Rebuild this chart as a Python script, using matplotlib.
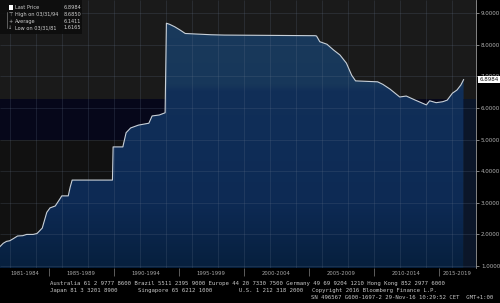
import numpy as np
import matplotlib.pyplot as plt
from matplotlib.colors import LinearSegmentedColormap
from matplotlib.patches import Rectangle

# USD/CNY spot (decimal year, rate)
years = [1981.25, 1981.5, 1981.75, 1982.0, 1982.25, 1982.6, 1983.0, 1983.3, 1983.8,
         1984.1, 1984.5, 1984.85, 1985.1, 1985.5, 1985.9, 1986.0, 1986.5, 1986.65,
         1986.8, 1989.9, 1989.95, 1990.7, 1990.95, 1991.3, 1991.9, 1992.7, 1992.95,
         1993.5, 1993.95, 1994.05, 1994.3, 1994.7, 1995.1, 1995.5, 1996.5, 1997.5,
         1998.5, 2005.5, 2005.6, 2005.85, 2006.4, 2006.9, 2007.4, 2007.9, 2008.3,
         2008.6, 2010.3, 2010.7, 2011.25, 2012.0, 2012.5, 2013.2, 2014.05, 2014.3,
         2014.8, 2015.3, 2015.65, 2016.05, 2016.4, 2016.7, 2016.91]
rates = [1.6165, 1.72, 1.78, 1.80, 1.86, 1.95, 1.96, 2.00, 2.00,
         2.03, 2.20, 2.70, 2.84, 2.90, 3.15, 3.22, 3.22, 3.50,
         3.72, 3.72, 4.77, 4.77, 5.22, 5.37, 5.46, 5.52, 5.75,
         5.78, 5.85, 8.685, 8.65, 8.57, 8.47, 8.36, 8.34, 8.32,
         8.31, 8.29, 8.28, 8.10, 8.02, 7.84, 7.68, 7.42, 7.04,
         6.86, 6.83, 6.75, 6.60, 6.35, 6.38, 6.25, 6.10, 6.23,
         6.17, 6.20, 6.25, 6.47, 6.57, 6.73, 6.8984]

period_edges = [1985, 1990, 1995, 2000, 2005, 2010, 2015]
period_labels = ['1981-1984', '1985-1989', '1990-1994', '1995-1999',
                 '2000-2004', '2005-2009', '2010-2014', '2015-2019']
y_ticks = [1, 2, 3, 4, 5, 6, 7, 8, 9]

last_price = 6.8984
high_price = 8.6850
avg_price = 6.1411
low_price = 1.6165

footer1 = ('Australia 61 2 9777 8600 Brazil 5511 2395 9000 Europe 44 20 7330 7500 '
           'Germany 49 69 9204 1210 Hong Kong 852 2977 6000')
footer2a = 'Japan 81 3 3201 8900'
footer2b = 'Singapore 65 6212 1000'
footer2c = 'U.S. 1 212 318 2000'
footer2d = 'Copyright 2016 Bloomberg Finance L.P.'
footer3 = 'SN 496567 G600-1697-2 29-Nov-16 10:29:52 CET  GMT+1:00'

W, H = 500, 303
fig = plt.figure(figsize=(W / 100, H / 100), dpi=100, facecolor='black')
ax = fig.add_axes([0, 1 - 268 / H, 476 / W, 268 / H])

x0, x1 = 1981.25, 1981.25 + 476 / 13
y0, y1 = 0.937, 9.42

# background bands
ax.set_facecolor('#1a1a1a')
ax.axhspan(y0, 6.3, color='#06071a', lw=0, zorder=0)
ax.axhspan(y0, 5.0, color='#111111', lw=0, zorder=0)
ax.add_patch(Rectangle((years[-1], y0), x1 - years[-1], 6.3 - y0,
                       color='#0b1629', lw=0, zorder=1))

# gradient fill under the curve
levels = np.linspace(y0, y1, 400)
shade = np.interp(levels, [1.0, 2.0, 3.0, 5.0, 6.55, 6.75, 9.0],
                  [0.0, 0.2, 0.35, 0.5, 0.6, 0.9, 1.0])
cmap = LinearSegmentedColormap.from_list(
    'bbg', [(0, '#07203e'), (0.2, '#0a254a'), (0.35, '#0d2a54'), (0.5, '#0f2d57'),
            (0.6, '#112f58'), (0.9, '#17375a'), (1, '#1a3a5c')])
im = ax.imshow(shade[:, None], extent=[x0, x1, y0, y1], origin='lower',
               aspect='auto', cmap=cmap, vmin=0, vmax=1, zorder=1)
poly = ax.fill_between(years, rates, y0, color='none', lw=0)
im.set_clip_path(poly.get_paths()[0], ax.transData)

# grid
ax.vlines(np.arange(1982, 2018, 2), y0, y1, color='#6a7a90', alpha=0.28, lw=0.5, zorder=2)
ax.hlines(y_ticks, x0, x1, color='#6a7a90', alpha=0.28, lw=0.5, zorder=2)

ax.plot(years, rates, color='#c8d0d8', lw=0.8, zorder=3)

ax.set_xlim(x0, x1)
ax.set_ylim(y0, y1)

for s in ['top', 'left', 'bottom']:
    ax.spines[s].set_visible(False)
ax.spines['right'].set_color('#9a9a9a')
ax.spines['right'].set_linewidth(0.6)

ax.yaxis.tick_right()
ax.set_yticks(y_ticks)
ax.set_yticklabels([f'{v:.4f}' for v in y_ticks])
ax.tick_params(axis='y', colors='#b5b5b5', labelsize=4, length=2.5, width=0.5, pad=1)

centers = []
edges = [x0] + period_edges + [x1]
for a, b in zip(edges[:-1], edges[1:]):
    centers.append((a + b) / 2)
ax.set_xticks(period_edges)
ax.set_xticklabels([])
ax.tick_params(axis='x', which='major', colors='#808080', length=6, width=0.5)
ax.set_xticks(centers, minor=True)
ax.set_xticklabels(period_labels, minor=True)
ax.tick_params(axis='x', which='minor', length=0, labelsize=3.8, labelcolor='#a8a8a8', pad=2.5)

# last price tag
ax.annotate(f'{last_price:.4f}', xy=(1, last_price), xycoords=('axes fraction', 'data'),
            xytext=(2.5, 0), textcoords='offset points', ha='left', va='center',
            fontsize=4, color='#111111', annotation_clip=False, zorder=10,
            bbox=dict(boxstyle='square,pad=0.2', fc='white', ec='none'))

# legend box
fig.patches.append(Rectangle((0, 1 - 34 / H), 82 / W, 34 / H, transform=fig.transFigure,
                             facecolor='#0d0d0d', alpha=0.9, edgecolor='none', zorder=5))
fig.patches.append(Rectangle((9 / W, 1 - 10 / H), 4 / W, 4.5 / H, transform=fig.transFigure,
                             facecolor='white', edgecolor='none', zorder=6))
fig.add_artist(plt.Line2D([7 / W, 7 / W], [1 - 12 / H, 1 - 28 / H], transform=fig.transFigure,
                          color='#9a9a9a', lw=0.4, zorder=6))
leg_rows = [('Last Price', last_price), ('High on 03/31/94', high_price),
            ('Average', avg_price), ('Low on 03/31/81', low_price)]
marks = ['', '\u22a4', '+', '\u2193']
for i, (name, val) in enumerate(leg_rows):
    yy = 1 - (7.5 + 6.8 * i) / H
    fig.text(15 / W, yy, name, fontsize=3.6, color='#cfcfcf', va='center', zorder=7)
    fig.text(81 / W, yy, f'{val:.4f}', fontsize=3.6, color='#cfcfcf', va='center', ha='right', zorder=7)
    if marks[i]:
        fig.text(10.5 / W, yy, marks[i], fontsize=3.6, color='#bbbbbb', va='center', ha='center', zorder=7)

# footer
mono = dict(family='DejaVu Sans Mono', fontsize=4.05, color='#c8c8c8', va='center')
fig.text(50 / W, 1 - 283.5 / H, footer1, **mono)
fig.text(50 / W, 1 - 290.5 / H, footer2a, **mono)
fig.text(138 / W, 1 - 290.5 / H, footer2b, **mono)
fig.text(239 / W, 1 - 290.5 / H, footer2c, **mono)
fig.text(312 / W, 1 - 290.5 / H, footer2d, **mono)
fig.text(493 / W, 1 - 297.5 / H, footer3, ha='right', **mono)

fig.savefig('out.png', dpi=100, facecolor='black')
